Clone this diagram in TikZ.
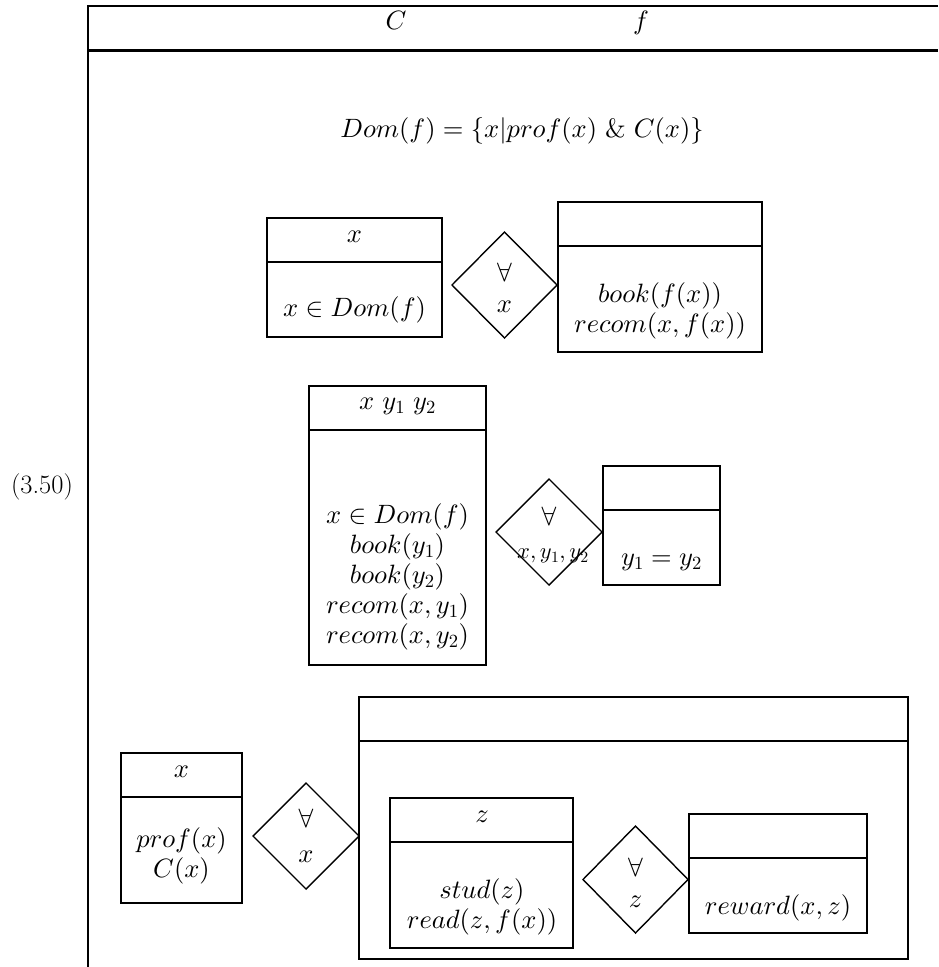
\documentclass[tikz,border=0pt]{standalone}
\usepackage{tikz}
\usetikzlibrary{shapes.geometric,positioning}

% math fonts at any size
\DeclareFontShape{OML}{cmm}{m}{it}{<-8>cmmi7<8->cmmi10}{}
\DeclareFontShape{OMS}{cmsy}{m}{n}{<-8>cmsy7<8->cmsy10}{}
\DeclareFontShape{OT1}{cmr}{m}{n}{<-8>cmr7<8->cmr10}{}

\newcommand{\drsfont}{\fontsize{26.5}{30}\selectfont}
\newcommand{\drssmall}{\fontsize{22.5}{26}\selectfont}

\begin{document}
\begin{tikzpicture}[x=1pt, y=-1pt,
drsbox/.style={rectangle, draw, line width=2pt, outer sep=0pt, inner sep=0pt,
  path picture={\draw[line width=2pt] ([yshift=-43.5pt]path picture bounding box.north west) -- ([yshift=-43.5pt]path picture bounding box.north east);}},
quant/.style={diamond, draw, line width=1.4pt, outer sep=0pt, inner sep=0pt, minimum width=105pt, minimum height=106pt},
cond/.style={font=\drsfont, align=center, inner sep=0pt},
]
\useasboundingbox (0,0) rectangle (938,967);

%Frame
\draw[line width=2.8pt] (938,6) -- (88,6) -- (88,967);
\draw[line width=2.6pt] (88,50.5) -- (938,50.5);
\node[cond, anchor=base] (cvar) at (396,29) {$C$};
\node[cond, anchor=base] (fvar) at (641,29) {$f$};
\node[cond]              (num)  at (42,487) {(3.50)};
\node[cond]              (dom)  at (522,130.5) {$Dom(f)=\{x|prof(x)\ \&\ C(x)\}$};

%Boxes
\node[drsbox, minimum width=175pt, minimum height=119pt] (b1)  at (354.5,277.5) {};
\node[drsbox, minimum width=204pt, minimum height=150pt] (b2)  at (660,277) {};
\node[drsbox, minimum width=177pt, minimum height=279pt, line width=2.6pt] (b3) at (397.5,525.5) {};
\node[drsbox, minimum width=117pt, minimum height=119pt] (b4)  at (661.5,525.5) {};
\node[drsbox, minimum width=121pt, minimum height=150pt] (b5)  at (181.5,828) {};
\node[drsbox, minimum width=549pt, minimum height=262pt] (big) at (633.5,828) {};
\node[drsbox, minimum width=183pt, minimum height=150pt] (b6)  at (481.5,873) {};
\node[drsbox, minimum width=178pt, minimum height=119pt] (b7)  at (778,873.5) {};

%Quantifiers
\node[quant] (q1) at (504.5,285) {};
\node[quant, minimum width=106pt] (q2) at (549,532) {};
\node[quant, minimum width=106pt] (q3) at (306,836) {};
\node[quant, minimum height=107pt] (q4) at (635.5,879.5) {};

\node[cond] (q1all) at (504.5,272) {$\forall$};
\node[cond] (q1var) at (504.5,307) {$x$};
\node[cond] (q2all) at (549,516) {$\forall$};
\node[cond, font=\drssmall] (q2var) at (553,556) {$x,y_1,y_2$};
\node[cond] (q3all) at (306,818) {$\forall$};
\node[cond] (q3var) at (306,857) {$x$};
\node[cond] (q4all) at (635.5,867) {$\forall$};
\node[cond] (q4var) at (635.5,902) {$z$};

%Universes and conditions
\node[cond] (b1head) at (354.5,237) {$x$};
\node[cond] (b1body) at (354.5,310) {$x\in Dom(f)$};
\node[cond] (b2body) at (660,310.5) {$book(f(x))$\\$recom(x,f(x))$};
\node[cond] (b3head) at (397.5,406) {$x\ y_1\ y_2$};
\node[cond] (b3body) at (397.5,577) {$x\in Dom(f)$\\$book(y_1)$\\$book(y_2)$\\$recom(x,y_1)$\\$recom(x,y_2)$};
\node[cond] (b4body) at (661.5,562) {$y_1=y_2$};
\node[cond] (b5head) at (181.5,772) {$x$};
\node[cond] (b5body) at (181.5,856) {$prof(x)$\\$C(x)$};
\node[cond] (b6head) at (482,817) {$z$};
\node[cond] (b6body) at (482,907) {$stud(z)$\\$read(z,f(x))$};
\node[cond] (b7body) at (778,908) {$reward(x,z)$};
\end{tikzpicture}
\end{document}
